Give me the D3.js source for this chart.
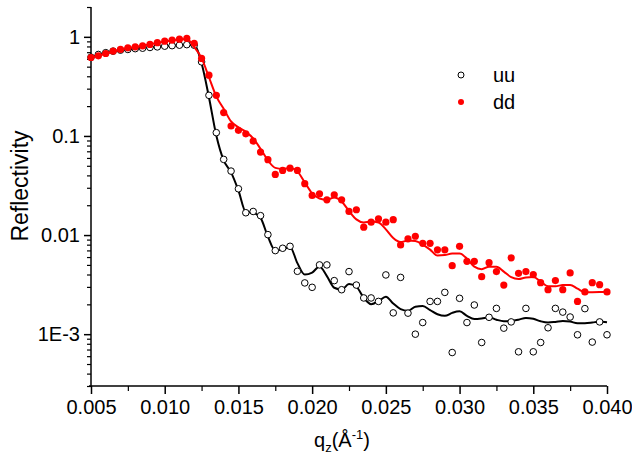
<!DOCTYPE html>
<html>
<head>
<meta charset="utf-8">
<script src="https://cdn.jsdelivr.net/npm/d3@7"></script>
<style>
  body { margin: 0; background: #fff; }
  svg { display: block; font-family: Arial, "Liberation Sans", sans-serif; }
  .axis path, .axis line { stroke: #000; }
  .axis text { fill: #000; font-size: 20px; }
</style>
</head>
<body>
<div id="chart"></div>
<script>
// q grid (1/A)
const qValues = [
  0.0050, 0.0055, 0.0060, 0.0065, 0.0070, 0.0075, 0.0080, 0.0085, 0.0090, 0.0095,
  0.0100, 0.0105, 0.0110, 0.0115, 0.0120, 0.0125, 0.0130, 0.0135, 0.0140, 0.0145,
  0.0150, 0.0155, 0.0160, 0.0165, 0.0170, 0.0175, 0.0180, 0.0185, 0.0190, 0.0195,
  0.0200, 0.0205, 0.0210, 0.0215, 0.0220, 0.0225, 0.0230, 0.0235, 0.0240, 0.0245,
  0.0250, 0.0255, 0.0260, 0.0265, 0.0270, 0.0275, 0.0280, 0.0285, 0.0290, 0.0295,
  0.0300, 0.0305, 0.0310, 0.0315, 0.0320, 0.0325, 0.0330, 0.0335, 0.0340, 0.0345,
  0.0350, 0.0355, 0.0360, 0.0365, 0.0370, 0.0375, 0.0380, 0.0385, 0.0390, 0.0395,
  0.0400
]

// measured reflectivity, spin up-up (open circles)
const uuValues = [
  0.623, 0.664, 0.692, 0.717, 0.734, 0.746, 0.76, 0.768, 0.781, 0.792,
  0.805, 0.815, 0.824, 0.834, 0.824, 0.559, 0.257, 0.108, 0.058, 0.0442,
  0.0293, 0.0168, 0.0173, 0.0157, 0.0101, 0.00697, 0.00736, 0.0077, 0.00431, 0.00329,
  0.00297, 0.005, 0.005, 0.00347, 0.00281, 0.00428, 0.00313, 0.00232, 0.00232, 0.00214,
  0.00396, 0.00164, 0.00374, 0.00163, 0.001, 0.00131, 0.00214, 0.00214, 0.00264, 0.000653,
  0.0023, 0.00131, 0.00197, 0.000824, 0.00148, 0.00182, 0.00115, 0.00133, 0.000664, 0.00182,
  0.000664, 0.000824, 0.00116, 0.00182, 0.00167, 0.00149, 0.000986, 0.00181, 0.000832, 0.00133,
  0.000986
]

// measured reflectivity, spin down-down (red dots)
const ddValues = [
  0.619, 0.643, 0.679, 0.716, 0.746, 0.774, 0.793, 0.811, 0.838, 0.873,
  0.905, 0.926, 0.948, 0.964, 0.86, 0.605, 0.41, 0.257, 0.172, 0.126,
  0.114, 0.105, 0.0887, 0.0687, 0.0576, 0.0409, 0.0449, 0.0473, 0.0449, 0.033,
  0.0251, 0.0261, 0.0227, 0.0255, 0.0227, 0.0173, 0.018, 0.012, 0.0135, 0.0146,
  0.0135, 0.0143, 0.00796, 0.00917, 0.00973, 0.00826, 0.00826, 0.00709, 0.00709, 0.00491,
  0.0077, 0.00543, 0.00543, 0.0038, 0.00527, 0.00428, 0.00313, 0.00589, 0.00411, 0.00428,
  0.00399, 0.00331, 0.00281, 0.00347, 0.00281, 0.00415, 0.00214, 0.00267, 0.00331, 0.00316,
  0.00267
]

// fitted curves
const uuFit = [
  0.62, 0.655, 0.685, 0.71, 0.73, 0.745, 0.76, 0.77, 0.785, 0.795,
  0.805, 0.815, 0.825, 0.83, 0.824, 0.542, 0.246, 0.101, 0.0567, 0.0429,
  0.0282, 0.0171, 0.0168, 0.0149, 0.00966, 0.007, 0.00713, 0.00757, 0.00521, 0.00399,
  0.00418, 0.00481, 0.00385, 0.00294, 0.00281, 0.0032, 0.00301, 0.00233, 0.00201, 0.00215,
  0.00239, 0.00204, 0.00179, 0.00172, 0.00189, 0.00192, 0.00175, 0.00159, 0.00153, 0.00164,
  0.0017, 0.00153, 0.00142, 0.00144, 0.00148, 0.0014, 0.00135, 0.00136, 0.0014, 0.00146,
  0.00143, 0.00135, 0.00131, 0.00133, 0.00136, 0.00134, 0.00129, 0.00129, 0.00131, 0.00134,
  0.00132
]

const ddFit = [
  0.62, 0.645, 0.675, 0.71, 0.74, 0.77, 0.79, 0.815, 0.84, 0.87,
  0.895, 0.92, 0.94, 0.95, 0.787, 0.609, 0.391, 0.251, 0.188, 0.14,
  0.122, 0.11, 0.0946, 0.0741, 0.0567, 0.0476, 0.0465, 0.0476, 0.0439, 0.034,
  0.0263, 0.0234, 0.0227, 0.0239, 0.0218, 0.0175, 0.0144, 0.0134, 0.0137, 0.0134,
  0.0114, 0.00933, 0.00849, 0.0088, 0.00869, 0.00802, 0.00713, 0.00621, 0.00628, 0.0065,
  0.0065, 0.00578, 0.0048, 0.00453, 0.0048, 0.0048, 0.00428, 0.00376, 0.0036, 0.00374,
  0.00377, 0.0034, 0.00305, 0.00305, 0.00313, 0.00314, 0.00288, 0.00265, 0.00265, 0.00266,
  0.00268
]

const xTicks = [0.005, 0.010, 0.015, 0.020, 0.025, 0.030, 0.035, 0.040]
const xMinorTicks = [0.0075, 0.0125, 0.0175, 0.0225, 0.0275, 0.0325, 0.0375]
const yTicks = [1, 0.1, 0.01, 0.001]
const yTickLabels = ['1', '0.1', '0.01', '1E-3']
const legendNames = ['uu', 'dd']

const width = 632
const height = 457
const margin = { top: 7, right: 25, bottom: 71, left: 91 }

const svg = d3.select('#chart').append('svg')
  .attr('width', width)
  .attr('height', height)

const innerW = width - margin.left - margin.right
const innerH = height - margin.top - margin.bottom

const x = d3.scaleLinear()
  .domain([0.005, 0.040])
  .range([0, innerW])

const y = d3.scaleLog()
  .domain([3e-4, 2])
  .range([innerH, 0])

const chart = svg.append('g')
  .attr('transform', `translate(${margin.left},${margin.top})`)

// minor y ticks: 2..9 of every decade inside the domain
const yMinor = []
for (let e = -4; e <= 0; e++) {
  for (let m = 2; m <= 9; m++) {
    const v = m * Math.pow(10, e)
    if (v >= 3e-4 && v <= 2) yMinor.push(v)
  }
}

chart.append('g')
  .attr('class', 'axis')
  .call(d3.axisLeft(y).tickValues(yMinor).tickSize(4).tickFormat(''))
  .call(g => g.select('.domain').remove())
  .selectAll('line').attr('stroke-width', 1.2)

chart.append('g')
  .attr('class', 'axis')
  .call(d3.axisLeft(y).tickValues(yTicks).tickSize(7).tickPadding(4)
    .tickFormat((d, i) => yTickLabels[i]))
  .call(g => g.select('.domain').attr('stroke-width', 1.5).attr('d', `M0,${innerH}V0`))
  .selectAll('line').attr('stroke-width', 1.5)

chart.append('g')
  .attr('class', 'axis')
  .attr('transform', `translate(0,${innerH})`)
  .call(d3.axisBottom(x).tickValues(xMinorTicks).tickSize(5).tickFormat(''))
  .call(g => g.select('.domain').remove())
  .selectAll('line').attr('stroke-width', 1.2)

chart.append('g')
  .attr('class', 'axis')
  .attr('transform', `translate(0,${innerH})`)
  .call(d3.axisBottom(x).tickValues(xTicks).tickSize(8).tickPadding(6)
    .tickFormat(d3.format('.3f')))
  .call(g => g.select('.domain').attr('stroke-width', 1.5).attr('d', `M-2,0H${innerW}`))
  .selectAll('line').attr('stroke-width', 1.5)

// fit lines
const line = vals => d3.line()
  .x((d, i) => x(qValues[i]))
  .y(d => y(d))
  .curve(d3.curveMonotoneX)(vals)

chart.append('path')
  .attr('d', line(uuFit))
  .attr('fill', 'none')
  .attr('stroke', '#000')
  .attr('stroke-width', 2)

chart.selectAll('.uu')
  .data(uuValues)
  .join('circle')
  .attr('class', 'uu')
  .attr('cx', (d, i) => x(qValues[i]))
  .attr('cy', d => y(d))
  .attr('r', 3.3)
  .attr('fill', '#fff')
  .attr('stroke', '#000')
  .attr('stroke-width', 1)

chart.append('path')
  .attr('d', line(ddFit))
  .attr('fill', 'none')
  .attr('stroke', '#ff0000')
  .attr('stroke-width', 2)

chart.selectAll('.dd')
  .data(ddValues)
  .join('circle')
  .attr('class', 'dd')
  .attr('cx', (d, i) => x(qValues[i]))
  .attr('cy', d => y(d))
  .attr('r', 3.6)
  .attr('fill', '#ff0000')

// legend
const legend = svg.append('g')
  .attr('transform', 'translate(461,75)')

legendNames.forEach((name, i) => {
  const row = legend.append('g').attr('transform', `translate(0,${i * 27})`)
  row.append('circle')
    .attr('r', 3)
    .attr('fill', i === 0 ? '#fff' : '#ff0000')
    .attr('stroke', i === 0 ? '#000' : 'none')
  row.append('text')
    .attr('x', 32)
    .attr('dy', '0.35em')
    .style('font-size', '20px')
    .text(name)
})

// axis titles
const xTitle = svg.append('text')
  .attr('x', 342)
  .attr('y', 447)
  .attr('text-anchor', 'middle')
  .style('font-size', '20px')
xTitle.append('tspan').text('q')
xTitle.append('tspan').attr('dy', 5).style('font-size', '13px').text('z')
xTitle.append('tspan').attr('dy', -5).text('(Å')
xTitle.append('tspan').attr('dy', -8).style('font-size', '13px').text('-1')
xTitle.append('tspan').attr('dy', 8).text(')')

svg.append('text')
  .attr('transform', 'translate(28,186) rotate(-90)')
  .attr('text-anchor', 'middle')
  .style('font-size', '23px')
  .text('Reflectivity')
</script>
</body>
</html>
